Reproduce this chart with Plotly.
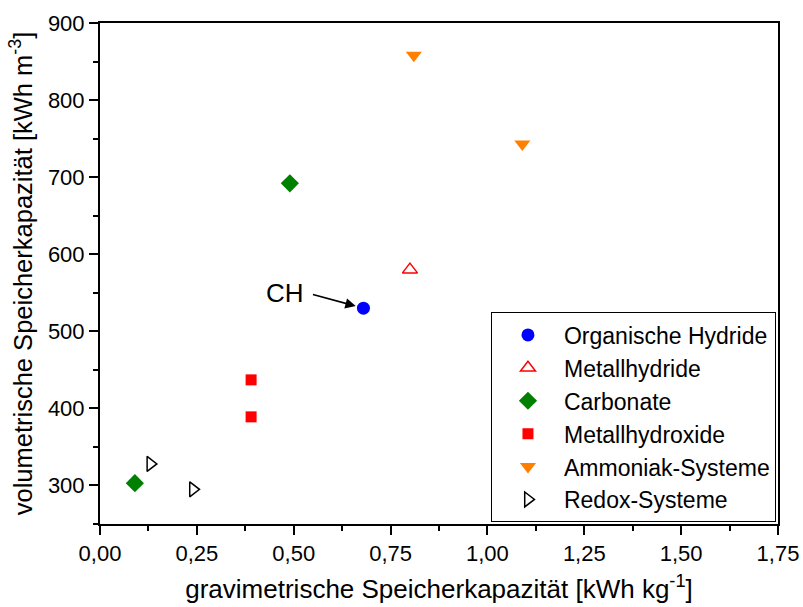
import plotly.graph_objects as go

# Data
series_names = ["Organische Hydride", "Metallhydride", "Carbonate",
                "Metallhydroxide", "Ammoniak-Systeme", "Redox-Systeme"]
oh_x = [0.68]; oh_y = [530]
mh_x = [0.80]; mh_y = [580]
ca_x = [0.49, 0.09]; ca_y = [692, 303]
mx_x = [0.39, 0.39]; mx_y = [437, 389]
am_x = [0.81, 1.09]; am_y = [858, 743]
rx_x = [0.13, 0.24]; rx_y = [328, 295]

x_ticks = [0, 0.25, 0.5, 0.75, 1.0, 1.25, 1.5, 1.75]
x_ticklabels = ["0,00", "0,25", "0,50", "0,75", "1,00", "1,25", "1,50", "1,75"]
y_ticks = [300, 400, 500, 600, 700, 800, 900]

styles = [
    dict(symbol="circle", color="#0000FF", size=13, line=dict(width=0)),
    dict(symbol="triangle-up-open", color="#FF0000", size=13, line=dict(width=1.5)),
    dict(symbol="diamond", color="#008000", size=14, line=dict(width=0)),
    dict(symbol="square", color="#FF0000", size=11, line=dict(width=0)),
    dict(symbol="triangle-down", color="#FF8000", size=14, line=dict(width=0)),
    dict(symbol="triangle-right-open", color="#000000", size=13, line=dict(width=1.5)),
]
xs = [oh_x, mh_x, ca_x, mx_x, am_x, rx_x]
ys = [oh_y, mh_y, ca_y, mx_y, am_y, rx_y]

fig = go.Figure()
for name, x, y, st in zip(series_names, xs, ys, styles):
    fig.add_trace(go.Scatter(x=x, y=y, mode="markers", name=name, marker=st))

fig.add_annotation(x=0.68, y=530, xref="x", yref="y", ax=-52, ay=-14,
                   text="", showarrow=True, arrowhead=2, arrowsize=1.3,
                   arrowwidth=1.6, arrowcolor="black", standoff=8)
fig.add_annotation(x=0.68, y=530, xref="x", yref="y", xshift=-78, yshift=15,
                   text="CH", showarrow=False,
                   font=dict(size=26, color="black"))

axis_common = dict(showline=True, linecolor="black", linewidth=2, mirror=True,
                   ticks="outside", ticklen=9, tickwidth=2, tickcolor="black",
                   showgrid=False, zeroline=False, automargin=False,
                   tickfont=dict(size=22, color="black"))

fig.update_xaxes(range=[0, 1.75], tickvals=x_ticks, ticktext=x_ticklabels,
                 minor=dict(ticks="outside", ticklen=5, tickwidth=2,
                            tickcolor="black", dtick=0.125, tick0=0),
                 title=dict(text="gravimetrische Speicherkapazität [kWh kg<sup>-1</sup>]",
                            font=dict(size=26, color="black"), standoff=14),
                 **axis_common)
fig.update_yaxes(range=[250, 900], tickvals=y_ticks,
                 minor=dict(ticks="outside", ticklen=5, tickwidth=2,
                            tickcolor="black", dtick=50, tick0=0),
                 title=dict(text="volumetrische Speicherkapazität [kWh m<sup>-3</sup>]",
                            font=dict(size=25.5, color="black"), standoff=8),
                 **axis_common)

fig.update_layout(
    width=803, height=607,
    margin=dict(l=100, r=25, t=23, b=83),
    paper_bgcolor="white", plot_bgcolor="white",
    font=dict(family="Liberation Sans, Arial, sans-serif", color="black"),
    legend=dict(x=0.997, y=0.003, xanchor="right", yanchor="bottom",
                bordercolor="black", borderwidth=1, bgcolor="white",
                font=dict(size=23, color="black"), itemwidth=62),
)

fig.write_html("out.html")
